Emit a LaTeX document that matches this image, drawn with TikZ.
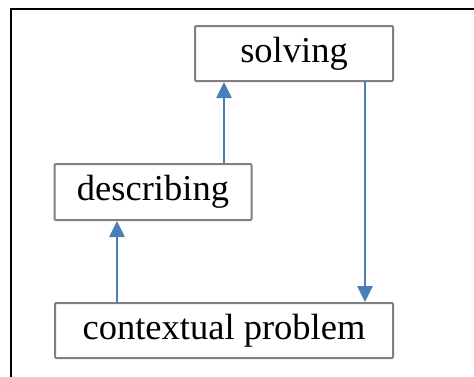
\documentclass[tikz,border=0pt]{standalone}
\usepackage{fontspec}
\setmainfont{Liberation Serif}
\usetikzlibrary{arrows.meta}
\begin{document}
\begin{tikzpicture}[x=1pt,y=-1pt,
  stagebox/.style={draw=black!50,line width=2pt,rounded corners=1pt,
    inner sep=0pt,font=\fontsize{36.5}{42}\selectfont},
  flow/.style={draw=arrowblue,line width=2.6pt,
    -{Triangle[width=15pt,length=16pt]}}]
\definecolor{arrowblue}{HTML}{4A7EBB}
\useasboundingbox (0,0) rectangle (474,376);
% outer frame, its right and bottom edges lie beyond the page
\draw[line width=2.6pt] (11,390) -- (11,9) -- (490,9);
% stages
\node[stagebox,minimum width=198pt,minimum height=55pt] (solve) at (294,53.5) {solving};
\node[stagebox,minimum width=197pt,minimum height=56pt] (desc) at (153,192) {describing};
\node[stagebox,minimum width=338pt,minimum height=55pt] (ctx) at (224,330.5) {contextual problem};
% connectors
\draw[flow] (ctx.north -| 117,0) -- (desc.south -| 117,0);
\draw[flow] (desc.north -| 224,0) -- (solve.south -| 224,0);
\draw[flow] (solve.south -| 365,0) -- (ctx.north -| 365,0);
\end{tikzpicture}
\end{document}
